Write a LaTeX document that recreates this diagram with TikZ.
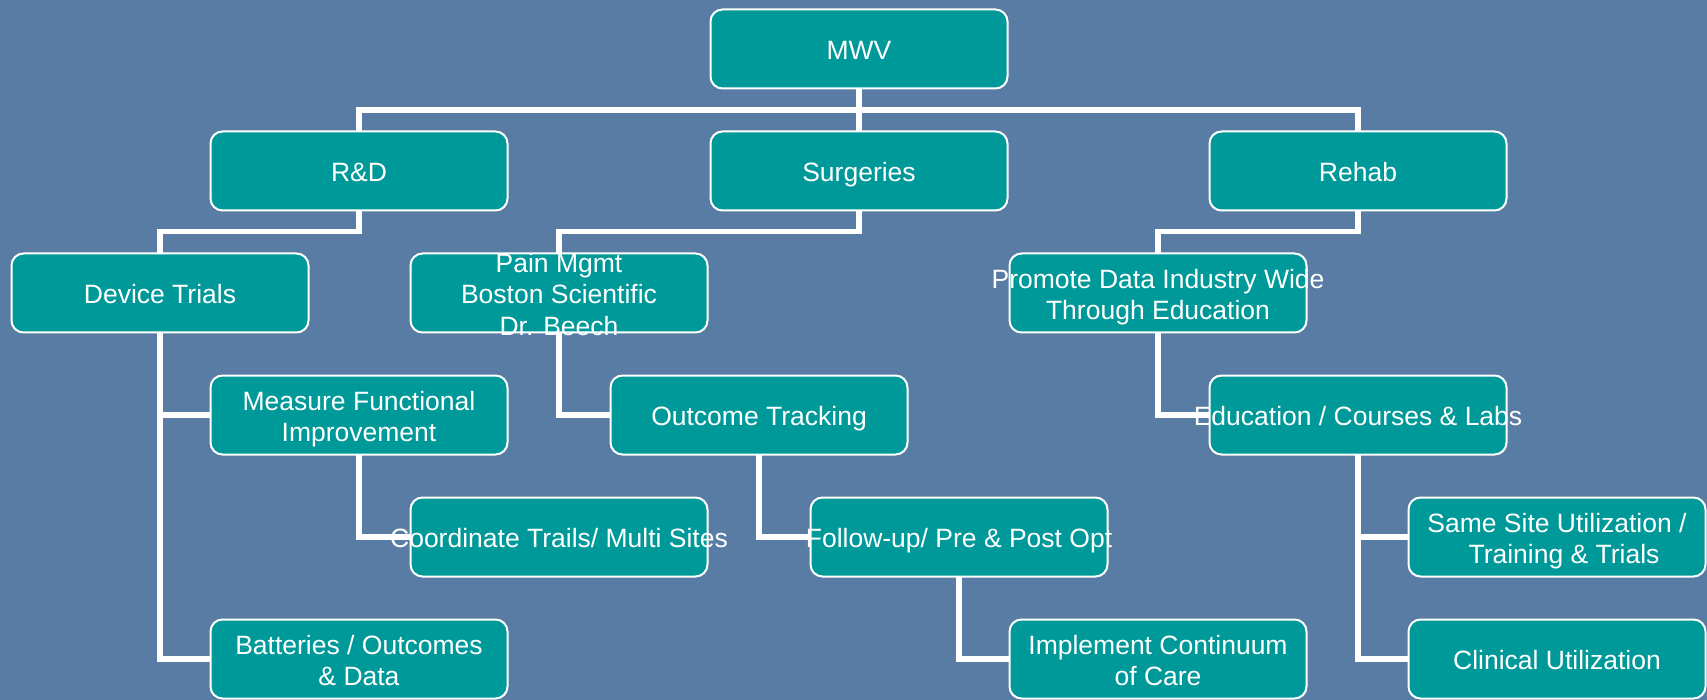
\documentclass[tikz,border=0pt]{standalone}
\usepackage{fontspec}
\setmainfont{Liberation Sans}
\definecolor{bgblue}{RGB}{88,124,163}
\definecolor{boxteal}{RGB}{0,153,153}
\newcommand{\sx}{\strut}
\tikzset{
  box/.style={draw=white, line width=2pt, fill=boxteal, rounded corners=12pt,
    minimum width=297pt, minimum height=79pt, inner sep=0pt, outer sep=0pt},
  conn/.style={draw=white, line width=5.5pt, line join=miter},
  txt/.style={text=white, font=\fontsize{26.5}{31.5}\selectfont, align=center, inner sep=0pt, yshift=-4.5pt}
}
\begin{document}
\begin{tikzpicture}[x=1pt,y=-1pt]
\useasboundingbox (0,0) rectangle (1707,700);
\clip (0,0) rectangle (1707,700);
\fill[bgblue] (0,0) rectangle (1707,700);
% boxes
\node[box] (mwv) at (859,49) {};
\node[box] (rd) at (359,171) {};
\node[box] (surg) at (859,171) {};
\node[box] (rehab) at (1358,171) {};
\node[box] (dev) at (160,293) {};
\node[box] (pain) at (559,293) {};
\node[box] (prom) at (1158,293) {};
\node[box] (meas) at (359,415) {};
\node[box] (out) at (759,415) {};
\node[box] (edu) at (1358,415) {};
\node[box] (coord) at (559,537) {};
\node[box] (foll) at (959,537) {};
\node[box] (same) at (1557,537) {};
\node[box] (batt) at (359,659) {};
\node[box] (impl) at (1158,659) {};
\node[box] (clin) at (1557,659) {};
\coordinate (bar) at (0,110);
\coordinate (lvl2) at (0,231.5);
% connectors
\draw[conn] (rd.north) -- (rd.north |- bar) -- (rehab.north |- bar) -- (rehab.north);
\draw[conn] (mwv.south) -- (surg.north);
\draw[conn] (rd.south) -- (rd.south |- lvl2) -| (dev.north);
\draw[conn] (surg.south) -- (surg.south |- lvl2) -| (pain.north);
\draw[conn] (rehab.south) -- (rehab.south |- lvl2) -| (prom.north);
\draw[conn] (dev.south) |- (meas.west);
\draw[conn] (dev.south) |- (batt.west);
\draw[conn] (pain.south) |- (out.west);
\draw[conn] (prom.south) |- (edu.west);
\draw[conn] (meas.south) |- (coord.west);
\draw[conn] (out.south) |- (foll.west);
\draw[conn] (edu.south) |- (same.west);
\draw[conn] (edu.south) |- (clin.west);
\draw[conn] (foll.south) |- (impl.west);
% texts
\node[txt] at (mwv) {\sx MWV};
\node[txt] at (rd) {\sx R\&D};
\node[txt] at (surg) {\sx Surgeries};
\node[txt] at (rehab) {\sx Rehab};
\node[txt] at (dev) {\sx Device Trials};
\node[txt] at (pain) {\sx Pain Mgmt\\\sx Boston Scientific\\\sx Dr. Beech};
\node[txt] at (prom) {\sx Promote Data Industry Wide\\\sx Through Education};
\node[txt] at (meas) {\sx Measure Functional\\\sx Improvement};
\node[txt] at (out) {\sx Outcome Tracking};
\node[txt] at (edu) {\sx Education / Courses \& Labs};
\node[txt] at (coord) {\sx Coordinate Trails/ Multi Sites};
\node[txt] at (foll) {\sx Follow-up/ Pre \& Post Opt};
\node[txt] at (same) {\sx Same Site Utilization /\\\hspace*{14pt}\sx Training \& Trials};
\node[txt] at (batt) {\sx Batteries / Outcomes\\\sx\& Data};
\node[txt] at (impl) {\sx Implement Continuum\\\sx of Care};
\node[txt] at (clin) {\sx Clinical Utilization};
\end{tikzpicture}
\end{document}
